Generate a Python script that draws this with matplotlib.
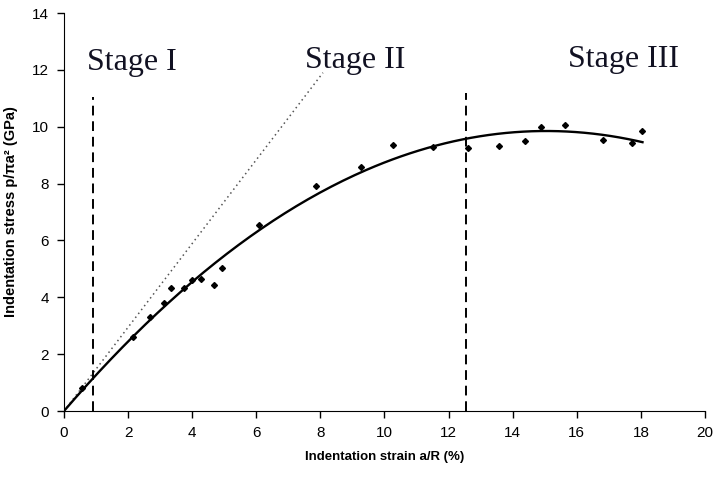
import matplotlib.pyplot as plt
import numpy as np

# measured points (strain %, stress GPa)
strain = [0.55, 2.15, 2.68, 3.12, 3.34, 3.74, 3.99, 4.27, 4.68, 4.93, 6.08,
          7.85, 9.26, 10.26, 11.50, 12.60, 13.58, 14.38, 14.87, 15.64,
          16.81, 17.71, 18.02]
stress = [0.8, 2.6, 3.31, 3.80, 4.33, 4.33, 4.61, 4.64, 4.43, 5.03, 6.54,
          7.92, 8.59, 9.37, 9.28, 9.26, 9.32, 9.50, 10.0, 10.05,
          9.54, 9.41, 9.86]

# elastic (Hertz) reference line end point
elastic_x = [0, 8.08]
elastic_y = [0, 11.9]

# stage boundaries and labels
stage_x = [0.9, 12.55]
stage_top = [11.05, 11.2]
stage_names = ["Stage I", "Stage II", "Stage III"]
stage_label_x = [0.72, 7.52, 15.73]
stage_label_y = [12.0, 12.06, 12.11]

fig = plt.figure(figsize=(7.15, 4.82), dpi=100)
ax = fig.add_axes([0.0895, 0.1473, 0.8965, 0.8257])

# 2nd order trend through origin
x = np.array(strain)
y = np.array(stress)
A = np.column_stack([x, x ** 2])
coef = np.linalg.lstsq(A, y, rcond=None)[0]
xf = np.linspace(0, 18.05, 200)
ax.plot(xf, coef[0] * xf + coef[1] * xf ** 2, color='black', lw=1.7, zorder=3)

ax.plot(elastic_x, elastic_y, color='#555555', lw=1.1, ls=(0, (1, 2.2)), zorder=2)
ax.plot(strain, stress, 'D', color='black', ms=3.0, zorder=4)

for sx, st in zip(stage_x, stage_top):
    ax.plot([sx, sx], [0, st], color='black', lw=1.4, ls=(0, (5, 3)), zorder=2)

for name, tx, ty in zip(stage_names, stage_label_x, stage_label_y):
    ax.text(tx, ty, name, family='Liberation Serif', fontsize=23,
            va='baseline', ha='left', color='#111122')

ax.set_xlim(0, 20)
ax.set_ylim(0, 14)
ax.set_xticks(range(0, 21, 2))
ax.set_yticks(range(0, 15, 2))
for s in ['top', 'right']:
    ax.spines[s].set_visible(False)
ax.tick_params(direction='out', length=5, width=1, labelsize=11, pad=6)
for lab in ax.get_xticklabels() + ax.get_yticklabels():
    lab.set_family('Liberation Sans')

ax.set_xlabel("Indentation strain a/R (%)", fontsize=9.5, fontweight='bold',
              family='Liberation Sans', labelpad=8)
ax.set_ylabel("Indentation stress p/\u03c0a\u00b2 (GPa)", fontsize=10.5,
              fontweight='bold', family='Liberation Sans', labelpad=10)

fig.savefig("out.png", dpi=100)
